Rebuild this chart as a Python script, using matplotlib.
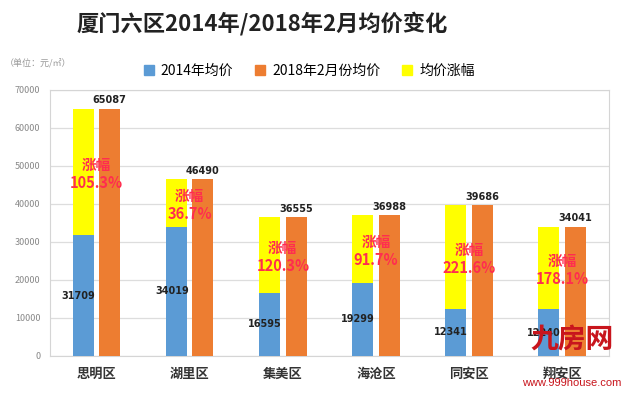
import numpy as np
import matplotlib.pyplot as plt
from matplotlib.patches import Patch

plt.rcParams['font.family'] = ['Noto Sans CJK SC', 'DejaVu Sans']

##DATA##########################################################################
districts = ['思明区', '湖里区', '集美区', '海沧区', '同安区', '翔安区']
price_2014 = [31709, 34019, 16595, 19299, 12341, 12240]
price_2018 = [65087, 46490, 36555, 36988, 39686, 34041]
growth = ['105.3%', '36.7%', '120.3%', '91.7%', '221.6%', '178.1%']
################################################################################

blue = '#5B9BD5'
orange = '#ED7D31'
yellow = '#FFFF00'
red = '#FF2D4F'

x = np.arange(len(districts))
p14 = np.array(price_2014)
p18 = np.array(price_2018)
w = 0.225
off = 0.142

fig = plt.figure(figsize=(6.25, 3.97), dpi=100)
ax = fig.add_axes([0.08, 0.1035, 0.894, 0.67])

ax.bar(x - off, p14, w, color=blue, zorder=3)
ax.bar(x - off, p18 - p14, w, bottom=p14, color=yellow, zorder=3)
ax.bar(x + off, p18, w, color=orange, zorder=3)

for i in range(len(x)):
    ax.text(x[i] + off, p18[i] + 900, str(p18[i]), ha='center', va='bottom',
            fontsize=7, fontweight='bold', color='#222222', family='DejaVu Sans')
    ax.text(x[i] - off - 0.05, p14[i] / 2, str(p14[i]), ha='center', va='center',
            fontsize=7, fontweight='bold', color='#222222', family='DejaVu Sans')
    mid = (p14[i] + p18[i]) / 2
    ax.text(x[i], mid - 500, '涨幅\n' + growth[i], ha='center', va='center',
            fontsize=10.5, fontweight='bold', color=red, linespacing=1.15)

ax.set_xlim(-0.5, len(x) - 0.5)
ax.set_ylim(0, 70000)
ax.set_yticks(np.arange(0, 70001, 10000))
ax.set_xticks(x)
ax.set_xticklabels(districts, fontsize=9.5, fontweight='bold', color='#333333')
ax.tick_params(axis='both', length=0)
ax.tick_params(axis='y', labelsize=6.5, labelcolor='#888888', pad=7)
ax.tick_params(axis='x', pad=8)
ax.grid(axis='y', color='#DDDDDD', linewidth=0.9, zorder=0)
for s in ax.spines.values():
    s.set_color('#D5D5D5')

fig.text(0.42, 0.94, '厦门六区2014年/2018年2月均价变化', ha='center', va='center',
         fontsize=16, fontweight='bold', color='#222222')
fig.text(0.008, 0.84, '（单位：元/㎡）', ha='left', va='center', fontsize=6.5, color='#999999')

handles = [Patch(color=blue), Patch(color=orange), Patch(color=yellow)]
fig.legend(handles, ['2014年均价', '2018年2月份均价', '均价涨幅'], ncol=3,
           loc='center', bbox_to_anchor=(0.495, 0.822), frameon=False, fontsize=10,
           handlelength=0.7, handleheight=0.7, handletextpad=0.5, columnspacing=1.6)

# 九房网 logo text
fig.text(0.915, 0.145, '九房网', ha='center', va='center', fontsize=20,
         fontweight='bold', color='#C8151D', zorder=5)
fig.text(0.915, 0.035, 'www.999house.com', ha='center', va='center', fontsize=8,
         color='#C8151D', family='Liberation Sans')

fig.savefig('out.png', dpi=100)
